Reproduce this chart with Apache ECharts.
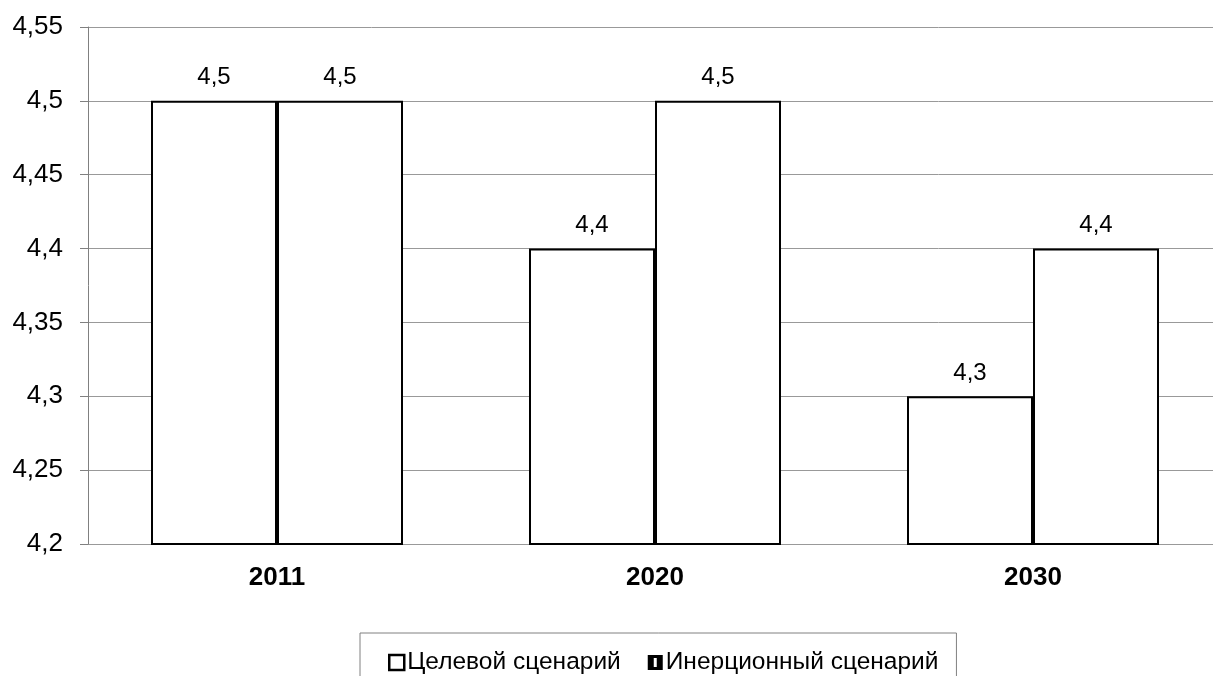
<!DOCTYPE html>
<html>
<head>
<meta charset="utf-8">
<script src="https://cdn.jsdelivr.net/npm/echarts@6/dist/echarts.min.js"></script>
<style>
  html, body { margin: 0; padding: 0; background: #fff; overflow: hidden; }
  /* область графика чуть шире окна: правый край обрезан, как в оригинале */
  #chart { width: 1222px; height: 676px; }
</style>
</head>
<body>
<div id="chart"></div>
<script>
// годы
var years = ['2011', '2020', '2030'];
// сценарии
var targetName = 'Целевой сценарий';
var inertName = 'Инерционный сценарий';
var targetValues = [4.5, 4.4, 4.3];
var inertValues = [4.5, 4.5, 4.4];

function fmt(v) {
	return String(Math.round(v * 100) / 100).replace('.', ',');
}

var chart = echarts.init(document.getElementById('chart'));
var font = 'Liberation Sans, Arial, sans-serif';

var barStyle = { color: '#fff', borderColor: '#000', borderWidth: 2 };
var labelCfg = {
	show: true,
	position: 'top',
	distance: 11,
	color: '#000',
	fontSize: 24,
	fontFamily: font,
	formatter: function (p) { return fmt(p.value); }
};

var option = {
	animation: false,
	backgroundColor: '#fff',
	grid: { left: 88, top: 27, right: 0, bottom: 132, containLabel: false },
	legend: {
		left: 360,
		top: 633,
		padding: [17, 18, 30, 28],
		borderColor: '#808080',
		borderWidth: 1,
		itemWidth: 15,
		itemHeight: 15,
		itemGap: 27,
		textStyle: { color: '#000', fontSize: 24.5, fontFamily: font, padding: [0, 0, 0, -2] },
		data: [
			{ name: targetName, icon: 'rect', itemStyle: { color: '#fff', borderColor: '#000', borderWidth: 2.5 } },
			{ name: inertName, icon: 'path://M0,0H10V10H0Z M4,2V8H6V2Z', itemStyle: { color: '#000', borderWidth: 0 } }
		]
	},
	xAxis: {
		type: 'category',
		data: years,
		axisLine: { show: false },
		axisTick: { show: false },
		axisLabel: { color: '#000', fontSize: 26, fontWeight: 'bold', fontFamily: font, margin: 21 }
	},
	yAxis: {
		type: 'value',
		min: 4.2,
		max: 4.55,
		interval: 0.05,
		axisLine: { show: true, lineStyle: { color: '#808080', width: 1 } },
		axisTick: { show: true, length: 8, lineStyle: { color: '#808080' } },
		splitLine: { show: true, lineStyle: { color: '#999', width: 1 } },
		axisLabel: { color: '#000', fontSize: 26, fontFamily: font, margin: 25, formatter: fmt }
	},
	series: [
		{
			name: targetName,
			type: 'bar',
			data: targetValues,
			barWidth: 126,
			barGap: '0%',
			itemStyle: barStyle,
			label: labelCfg
		},
		{
			name: inertName,
			type: 'bar',
			data: inertValues,
			barWidth: 126,
			barGap: '0%',
			itemStyle: barStyle,
			label: labelCfg
		}
	]
};
chart.setOption(option);
</script>
</body>
</html>
